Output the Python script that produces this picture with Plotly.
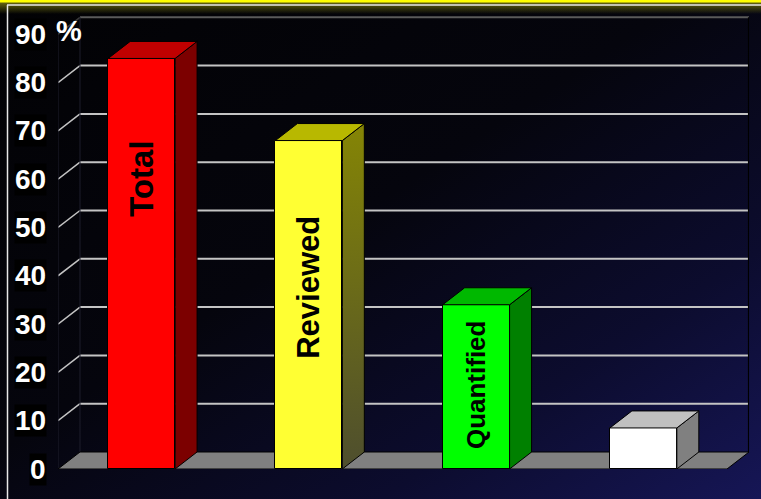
import base64
import plotly.graph_objects as go

# --- data ---------------------------------------------------------------
categories = ["Total", "Reviewed", "Quantified", "Other"]
values = [85, 68, 34, 8.5]
label_y = [60, 37.7, 17.4, None]          # where the in-bar captions sit
label_size = [33, 31, 26, None]
tick_values = [0, 10, 20, 30, 40, 50, 60, 70, 80, 90]
tick_labels = ["0", "10", "20", "30", "40", "50", "60", "70", "80", "90"]

front_colors = ["#ff0000", "#ffff33", "#00ff00", "#ffffff"]
top_colors = ["#c00000", "#b8b800", "#00b800", "#c0c0c0"]
side_colors = ["#7c0000", None, "#008000", "#808080"]

# --- 3-D geometry (depth of the chart box in axis units) ------------------
W, H = 761, 499
L_M, R_M, T_M, B_M = 58, 12, 16, 30
X0, X1 = -0.5, 3.6315
Y0, Y1 = 0.0, 93.79
DX = 0.1315        # horizontal depth offset
DY = 3.52          # vertical depth offset
BAR_W = 0.40
FONT = "Arial, Liberation Sans, sans-serif"

fig = go.Figure()

# bar side and top faces
for i, v in enumerate(values):
    xl, xr = i - BAR_W / 2, i + BAR_W / 2
    side = dict(x=[xr, xr + DX, xr + DX, xr, xr], y=[0, DY, v + DY, v, 0],
                mode="lines", fill="toself",
                line=dict(color="#000000", width=1),
                hoverinfo="skip", showlegend=False)
    if side_colors[i] is None:
        side["fillgradient"] = dict(type="vertical",
                                    colorscale=[[0, "#4e4e2e"], [1, "#858505"]])
    else:
        side["fillcolor"] = side_colors[i]
    fig.add_trace(go.Scatter(**side))
    fig.add_trace(go.Scatter(
        x=[xl, xr, xr + DX, xl + DX, xl], y=[v, v, v + DY, v + DY, v],
        mode="lines", fill="toself", fillcolor=top_colors[i],
        line=dict(color="#000000", width=1), hoverinfo="skip", showlegend=False))

# bar front faces
fig.add_trace(go.Bar(
    x=list(range(len(values))), y=values, width=BAR_W,
    marker=dict(color=front_colors, line=dict(color="#000000", width=1)),
    hoverinfo="skip", showlegend=False))

# back-wall gridlines and their diagonals on the side wall
shapes = []
for t in tick_values:
    col = "#c4c4c4" if t < 90 else "#5a5a5a"
    if t > 0:
        shapes.append(dict(type="line", xref="x", yref="y", layer="below",
                           x0=X0 + DX, x1=X1, y0=t + DY, y1=t + DY,
                           line=dict(color=col, width=2)))
        shapes.append(dict(type="line", xref="x", yref="y", layer="below",
                           x0=X0, x1=X0 + DX, y0=t, y1=t + DY,
                           line=dict(color=col if t < 90 else "#3a3a3a", width=1.5)))
# wall edges
shapes.append(dict(type="line", xref="x", yref="y", layer="below",
                   x0=X0, x1=X0, y0=0, y1=90, line=dict(color="#1e1e2c", width=1)))
shapes.append(dict(type="line", xref="x", yref="y", layer="below",
                   x0=X0 + DX, x1=X0 + DX, y0=DY, y1=90 + DY,
                   line=dict(color="#1e1e2c", width=1)))
shapes.append(dict(type="line", xref="x", yref="y", layer="below",
                   x0=X1 - 0.002, x1=X1 - 0.002, y0=DY, y1=90 + DY,
                   line=dict(color="#000000", width=1.5)))
# floor (beneath the bars)
floor_x = [X0, 3.5, 3.5 + DX, X0 + DX]
floor_y = [0, 0, DY, DY]
floor_path = "M " + " L ".join(f"{x},{y}" for x, y in zip(floor_x, floor_y)) + " Z"
shapes.append(dict(type="path", xref="x", yref="y", layer="below",
                   path=floor_path, fillcolor="#808080",
                   line=dict(color="#000000", width=1)))

fig.update_layout(shapes=shapes)

# axis tick labels (front edge) and percent sign
annotations = []
for t, lab in zip(tick_values, tick_labels):
    annotations.append(dict(x=X0, y=t, xref="x", yref="y", text=f"<b>{lab}</b>",
                            showarrow=False, xanchor="right", yanchor="middle",
                            xshift=-11, bgcolor="#000000", borderpad=0,
                            font=dict(family=FONT, size=28, color="#ffffff")))
annotations.append(dict(x=X0, y=90, xref="x", yref="y", text="<b>%</b>",
                        showarrow=False, xanchor="left", yanchor="middle",
                        xshift=-4, yshift=3,
                        font=dict(family=FONT, size=29, color="#ffffff")))
for i, cat in enumerate(categories):
    if label_y[i] is None:
        continue
    annotations.append(dict(x=i, y=label_y[i], xref="x", yref="y",
                            text="<b>%s</b>" % cat, textangle=-90,
                            showarrow=False, xanchor="center", yanchor="middle",
                            font=dict(family=FONT, size=label_size[i], color="#000000")))

# background: dark-to-navy gradient, yellow rule and white frame
svg = f"""<svg xmlns='http://www.w3.org/2000/svg' width='{W}' height='{H}'>
<defs>
<linearGradient id='bg' x1='0' y1='0' x2='1' y2='1'>
<stop offset='0' stop-color='#020204'/>
<stop offset='0.45' stop-color='#05050d'/>
<stop offset='0.75' stop-color='#0c0c2e'/>
<stop offset='1' stop-color='#161656'/>
</linearGradient>
<linearGradient id='glow' x1='0' y1='0' x2='0' y2='1'>
<stop offset='0' stop-color='#6a6a10'/>
<stop offset='1' stop-color='#6a6a10' stop-opacity='0'/>
</linearGradient>
</defs>
<rect width='{W}' height='{H}' fill='url(#bg)'/>
<rect x='0' y='2' width='{W}' height='12' fill='url(#glow)'/>
<rect x='0' y='0' width='{W}' height='2.5' fill='#ffff00'/>
<line x1='7.5' y1='5' x2='7.5' y2='{H}' stroke='#e8e8e8' stroke-width='1.5'/>
<line x1='7' y1='5' x2='{W}' y2='5' stroke='#e8e8e8' stroke-width='1.5'/>
</svg>"""
src = "data:image/svg+xml;base64," + base64.b64encode(svg.encode()).decode()

pw = W - L_M - R_M
ph = H - T_M - B_M
fig.add_layout_image(dict(source=src, xref="paper", yref="paper",
                          x=-L_M / pw, y=1 + T_M / ph,
                          sizex=W / pw, sizey=H / ph,
                          xanchor="left", yanchor="top",
                          sizing="stretch", layer="below"))

fig.update_layout(
    width=W, height=H,
    margin=dict(l=L_M, r=R_M, t=T_M, b=B_M),
    paper_bgcolor="#000000", plot_bgcolor="rgba(0,0,0,0)",
    annotations=annotations,
    xaxis=dict(range=[X0, X1], visible=False, fixedrange=True),
    yaxis=dict(range=[Y0, Y1], visible=False, fixedrange=True),
    bargap=0, showlegend=False,
)

fig.write_html("out.html")
